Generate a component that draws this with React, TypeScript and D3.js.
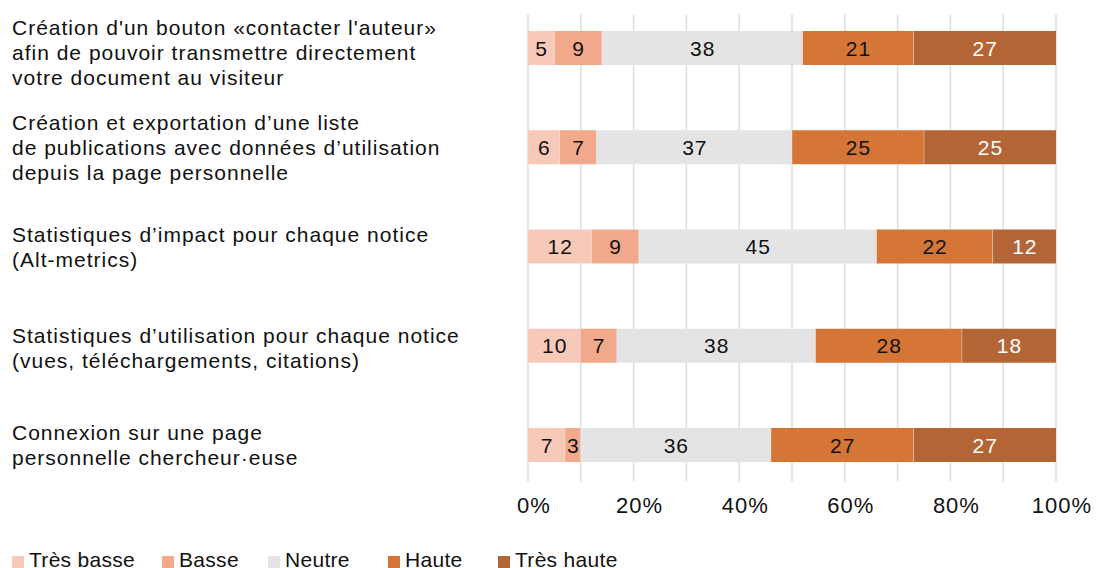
import React from "react";
import * as d3 from "d3";

const categories: string[][] = [
  ["Création d'un bouton «contacter l'auteur»", "afin de pouvoir transmettre directement", "votre document au visiteur"],
  ["Création et exportation d’une liste", "de publications avec données d’utilisation", "depuis la page personnelle"],
  ["Statistiques d’impact pour chaque notice", "(Alt-metrics)"],
  ["Statistiques d’utilisation pour chaque notice", "(vues, téléchargements, citations)"],
  ["Connexion sur une page", "personnelle chercheur·euse"],
];

const seriesNames = ["Très basse", "Basse", "Neutre", "Haute", "Très haute"];
const tresBasse = [5, 6, 12, 10, 7];
const basse = [9, 7, 9, 7, 3];
const neutre = [38, 37, 45, 38, 36];
const haute = [21, 25, 22, 28, 27];
const tresHaute = [27, 25, 12, 18, 27];
const tickValues = [0, 0.2, 0.4, 0.6, 0.8, 1];

const colors = ["#f6c9b8", "#f2a98b", "#e4e4e4", "#d57636", "#b36535"];
const labelColors = ["#111", "#111", "#111", "#111", "#ffffff"];
const legendX = [12, 162, 268, 388, 498];
const labelDy = [4, 0, 0, 2, 0];

const FONT = "'Liberation Sans', Arial, sans-serif";

export default function App() {
  const W = 1096, H = 568;
  const rows = categories.map((c, i) => ({
    key: String(i),
    "Très basse": tresBasse[i],
    "Basse": basse[i],
    "Neutre": neutre[i],
    "Haute": haute[i],
    "Très haute": tresHaute[i],
  }));
  const stacked = d3.stack<any>().keys(seriesNames).offset(d3.stackOffsetExpand)(rows);
  const x = d3.scaleLinear().domain([0, 1]).range([528, 1056]);
  const y = d3.scalePoint<string>().domain(rows.map((r) => r.key)).range([48, 445]);
  const barH = 34;
  const lineH = 25;
  const grid = d3.range(0, 1.0001, 0.1);

  return (
    <svg width={W} height={H} style={{ position: "absolute", left: 0, top: 0 }} fontFamily={FONT}>
      <rect width={W} height={H} fill="#fff" />
      {grid.map((g, i) => (
        <line key={i} x1={x(g)} x2={x(g)} y1={14} y2={482} stroke="#dddddd" strokeWidth={1.5} />
      ))}
      {stacked.map((s, si) => (
        <g key={s.key}>
          {s.map((d, ri) => {
            const cy = y(String(ri))!;
            const x0 = x(d[0]), x1 = x(d[1]);
            return (
              <g key={ri}>
                <rect x={x0} y={cy - barH / 2} width={x1 - x0} height={barH} fill={colors[si]} />
                {si > 0 && (
                  <line x1={x0} x2={x0} y1={cy - barH / 2} y2={cy + barH / 2} stroke="#fff" strokeOpacity={0.35} strokeWidth={1} />
                )}
                <text x={(x0 + x1) / 2 + 0.5} y={cy + 7.5} textAnchor="middle" fontSize={21} letterSpacing={1} fill={labelColors[si]}>
                  {(rows[ri] as any)[s.key]}
                </text>
              </g>
            );
          })}
        </g>
      ))}
      {categories.map((lines, i) => {
        const cy = y(String(i))!;
        const first = cy - ((lines.length - 1) * lineH) / 2 + 7.5 + labelDy[i];
        return (
          <text key={i} fontSize={21} letterSpacing={1} fill="#111">
            {lines.map((l, j) => (
              <tspan key={j} x={12} y={first + j * lineH}>{l}</tspan>
            ))}
          </text>
        );
      })}
      {tickValues.map((t, i) => (
        <text key={i} x={x(t) + 6} y={513} textAnchor="middle" fontSize={22} letterSpacing={1} fill="#111">
          {d3.format(".0%")(t)}
        </text>
      ))}
      {seriesNames.map((n, i) => (
        <g key={n}>
          <rect x={legendX[i]} y={556} width={12} height={12} fill={colors[i]} />
          <text x={legendX[i] + 17} y={566.5} fontSize={21} letterSpacing={0.3} fill="#111">{n}</text>
        </g>
      ))}
    </svg>
  );
}
